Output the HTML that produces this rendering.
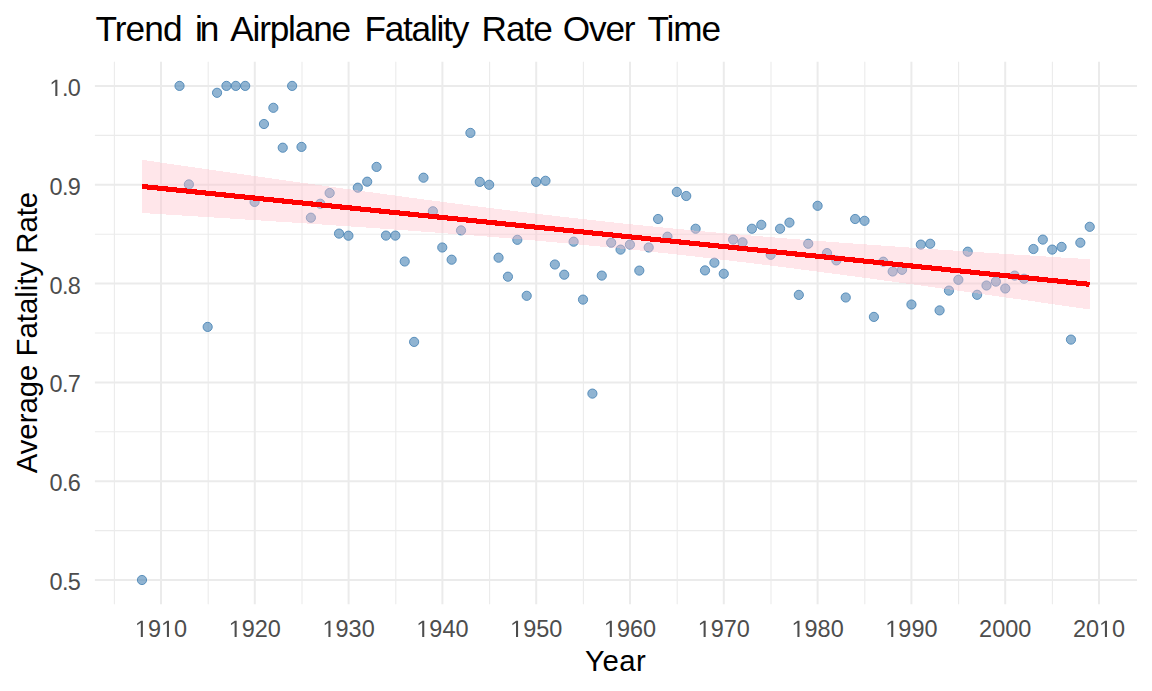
<!DOCTYPE html><html><head><meta charset="utf-8"><style>html,body{margin:0;padding:0;background:#fff;width:1152px;height:691px;overflow:hidden}svg{display:block}text{font-family:"Liberation Sans",sans-serif}</style></head><body>
<svg width="1152" height="691" viewBox="0 0 1152 691">
<rect width="1152" height="691" fill="#fff"/>
<line x1="94.9" x2="1137.0" y1="530.60" y2="530.60" stroke="#EBEBEB" stroke-width="1.1"/>
<line x1="94.9" x2="1137.0" y1="431.80" y2="431.80" stroke="#EBEBEB" stroke-width="1.1"/>
<line x1="94.9" x2="1137.0" y1="333.00" y2="333.00" stroke="#EBEBEB" stroke-width="1.1"/>
<line x1="94.9" x2="1137.0" y1="234.20" y2="234.20" stroke="#EBEBEB" stroke-width="1.1"/>
<line x1="94.9" x2="1137.0" y1="135.40" y2="135.40" stroke="#EBEBEB" stroke-width="1.1"/>
<line y1="61.7" y2="604.3" x1="114.40" x2="114.40" stroke="#EBEBEB" stroke-width="1.1"/>
<line y1="61.7" y2="604.3" x1="208.20" x2="208.20" stroke="#EBEBEB" stroke-width="1.1"/>
<line y1="61.7" y2="604.3" x1="302.00" x2="302.00" stroke="#EBEBEB" stroke-width="1.1"/>
<line y1="61.7" y2="604.3" x1="395.80" x2="395.80" stroke="#EBEBEB" stroke-width="1.1"/>
<line y1="61.7" y2="604.3" x1="489.60" x2="489.60" stroke="#EBEBEB" stroke-width="1.1"/>
<line y1="61.7" y2="604.3" x1="583.40" x2="583.40" stroke="#EBEBEB" stroke-width="1.1"/>
<line y1="61.7" y2="604.3" x1="677.20" x2="677.20" stroke="#EBEBEB" stroke-width="1.1"/>
<line y1="61.7" y2="604.3" x1="771.00" x2="771.00" stroke="#EBEBEB" stroke-width="1.1"/>
<line y1="61.7" y2="604.3" x1="864.80" x2="864.80" stroke="#EBEBEB" stroke-width="1.1"/>
<line y1="61.7" y2="604.3" x1="958.60" x2="958.60" stroke="#EBEBEB" stroke-width="1.1"/>
<line y1="61.7" y2="604.3" x1="1052.40" x2="1052.40" stroke="#EBEBEB" stroke-width="1.1"/>
<line x1="94.9" x2="1137.0" y1="580.00" y2="580.00" stroke="#EBEBEB" stroke-width="2"/>
<line x1="94.9" x2="1137.0" y1="481.20" y2="481.20" stroke="#EBEBEB" stroke-width="2"/>
<line x1="94.9" x2="1137.0" y1="382.40" y2="382.40" stroke="#EBEBEB" stroke-width="2"/>
<line x1="94.9" x2="1137.0" y1="283.60" y2="283.60" stroke="#EBEBEB" stroke-width="2"/>
<line x1="94.9" x2="1137.0" y1="184.80" y2="184.80" stroke="#EBEBEB" stroke-width="2"/>
<line x1="94.9" x2="1137.0" y1="86.00" y2="86.00" stroke="#EBEBEB" stroke-width="2"/>
<line y1="61.7" y2="604.3" x1="161.00" x2="161.00" stroke="#EBEBEB" stroke-width="2"/>
<line y1="61.7" y2="604.3" x1="254.80" x2="254.80" stroke="#EBEBEB" stroke-width="2"/>
<line y1="61.7" y2="604.3" x1="348.60" x2="348.60" stroke="#EBEBEB" stroke-width="2"/>
<line y1="61.7" y2="604.3" x1="442.40" x2="442.40" stroke="#EBEBEB" stroke-width="2"/>
<line y1="61.7" y2="604.3" x1="536.20" x2="536.20" stroke="#EBEBEB" stroke-width="2"/>
<line y1="61.7" y2="604.3" x1="630.00" x2="630.00" stroke="#EBEBEB" stroke-width="2"/>
<line y1="61.7" y2="604.3" x1="723.80" x2="723.80" stroke="#EBEBEB" stroke-width="2"/>
<line y1="61.7" y2="604.3" x1="817.60" x2="817.60" stroke="#EBEBEB" stroke-width="2"/>
<line y1="61.7" y2="604.3" x1="911.40" x2="911.40" stroke="#EBEBEB" stroke-width="2"/>
<line y1="61.7" y2="604.3" x1="1005.20" x2="1005.20" stroke="#EBEBEB" stroke-width="2"/>
<line y1="61.7" y2="604.3" x1="1099.00" x2="1099.00" stroke="#EBEBEB" stroke-width="2"/>
<circle cx="141.98" cy="580.00" r="4.6" fill="#4682B4" fill-opacity="0.6" stroke="#4682B4" stroke-opacity="0.85" stroke-width="1.0"/>
<circle cx="179.52" cy="85.90" r="4.6" fill="#4682B4" fill-opacity="0.6" stroke="#4682B4" stroke-opacity="0.85" stroke-width="1.0"/>
<circle cx="188.90" cy="184.40" r="4.6" fill="#4682B4" fill-opacity="0.6" stroke="#4682B4" stroke-opacity="0.85" stroke-width="1.0"/>
<circle cx="207.67" cy="326.90" r="4.6" fill="#4682B4" fill-opacity="0.6" stroke="#4682B4" stroke-opacity="0.85" stroke-width="1.0"/>
<circle cx="217.05" cy="92.80" r="4.6" fill="#4682B4" fill-opacity="0.6" stroke="#4682B4" stroke-opacity="0.85" stroke-width="1.0"/>
<circle cx="226.44" cy="85.90" r="4.6" fill="#4682B4" fill-opacity="0.6" stroke="#4682B4" stroke-opacity="0.85" stroke-width="1.0"/>
<circle cx="235.82" cy="85.90" r="4.6" fill="#4682B4" fill-opacity="0.6" stroke="#4682B4" stroke-opacity="0.85" stroke-width="1.0"/>
<circle cx="245.20" cy="85.90" r="4.6" fill="#4682B4" fill-opacity="0.6" stroke="#4682B4" stroke-opacity="0.85" stroke-width="1.0"/>
<circle cx="254.59" cy="201.90" r="4.6" fill="#4682B4" fill-opacity="0.6" stroke="#4682B4" stroke-opacity="0.85" stroke-width="1.0"/>
<circle cx="263.97" cy="124.00" r="4.6" fill="#4682B4" fill-opacity="0.6" stroke="#4682B4" stroke-opacity="0.85" stroke-width="1.0"/>
<circle cx="273.35" cy="107.80" r="4.6" fill="#4682B4" fill-opacity="0.6" stroke="#4682B4" stroke-opacity="0.85" stroke-width="1.0"/>
<circle cx="282.74" cy="147.70" r="4.6" fill="#4682B4" fill-opacity="0.6" stroke="#4682B4" stroke-opacity="0.85" stroke-width="1.0"/>
<circle cx="292.12" cy="85.90" r="4.6" fill="#4682B4" fill-opacity="0.6" stroke="#4682B4" stroke-opacity="0.85" stroke-width="1.0"/>
<circle cx="301.50" cy="146.90" r="4.6" fill="#4682B4" fill-opacity="0.6" stroke="#4682B4" stroke-opacity="0.85" stroke-width="1.0"/>
<circle cx="310.89" cy="217.70" r="4.6" fill="#4682B4" fill-opacity="0.6" stroke="#4682B4" stroke-opacity="0.85" stroke-width="1.0"/>
<circle cx="320.27" cy="203.75" r="4.6" fill="#4682B4" fill-opacity="0.6" stroke="#4682B4" stroke-opacity="0.85" stroke-width="1.0"/>
<circle cx="329.65" cy="193.00" r="4.6" fill="#4682B4" fill-opacity="0.6" stroke="#4682B4" stroke-opacity="0.85" stroke-width="1.0"/>
<circle cx="339.04" cy="233.60" r="4.6" fill="#4682B4" fill-opacity="0.6" stroke="#4682B4" stroke-opacity="0.85" stroke-width="1.0"/>
<circle cx="348.42" cy="235.70" r="4.6" fill="#4682B4" fill-opacity="0.6" stroke="#4682B4" stroke-opacity="0.85" stroke-width="1.0"/>
<circle cx="357.81" cy="187.70" r="4.6" fill="#4682B4" fill-opacity="0.6" stroke="#4682B4" stroke-opacity="0.85" stroke-width="1.0"/>
<circle cx="367.19" cy="181.70" r="4.6" fill="#4682B4" fill-opacity="0.6" stroke="#4682B4" stroke-opacity="0.85" stroke-width="1.0"/>
<circle cx="376.57" cy="166.90" r="4.6" fill="#4682B4" fill-opacity="0.6" stroke="#4682B4" stroke-opacity="0.85" stroke-width="1.0"/>
<circle cx="385.96" cy="235.60" r="4.6" fill="#4682B4" fill-opacity="0.6" stroke="#4682B4" stroke-opacity="0.85" stroke-width="1.0"/>
<circle cx="395.34" cy="235.60" r="4.6" fill="#4682B4" fill-opacity="0.6" stroke="#4682B4" stroke-opacity="0.85" stroke-width="1.0"/>
<circle cx="404.72" cy="261.50" r="4.6" fill="#4682B4" fill-opacity="0.6" stroke="#4682B4" stroke-opacity="0.85" stroke-width="1.0"/>
<circle cx="414.11" cy="341.90" r="4.6" fill="#4682B4" fill-opacity="0.6" stroke="#4682B4" stroke-opacity="0.85" stroke-width="1.0"/>
<circle cx="423.49" cy="177.70" r="4.6" fill="#4682B4" fill-opacity="0.6" stroke="#4682B4" stroke-opacity="0.85" stroke-width="1.0"/>
<circle cx="432.87" cy="211.25" r="4.6" fill="#4682B4" fill-opacity="0.6" stroke="#4682B4" stroke-opacity="0.85" stroke-width="1.0"/>
<circle cx="442.26" cy="247.50" r="4.6" fill="#4682B4" fill-opacity="0.6" stroke="#4682B4" stroke-opacity="0.85" stroke-width="1.0"/>
<circle cx="451.64" cy="259.70" r="4.6" fill="#4682B4" fill-opacity="0.6" stroke="#4682B4" stroke-opacity="0.85" stroke-width="1.0"/>
<circle cx="461.03" cy="230.40" r="4.6" fill="#4682B4" fill-opacity="0.6" stroke="#4682B4" stroke-opacity="0.85" stroke-width="1.0"/>
<circle cx="470.41" cy="132.90" r="4.6" fill="#4682B4" fill-opacity="0.6" stroke="#4682B4" stroke-opacity="0.85" stroke-width="1.0"/>
<circle cx="479.79" cy="181.90" r="4.6" fill="#4682B4" fill-opacity="0.6" stroke="#4682B4" stroke-opacity="0.85" stroke-width="1.0"/>
<circle cx="489.18" cy="184.80" r="4.6" fill="#4682B4" fill-opacity="0.6" stroke="#4682B4" stroke-opacity="0.85" stroke-width="1.0"/>
<circle cx="498.56" cy="257.70" r="4.6" fill="#4682B4" fill-opacity="0.6" stroke="#4682B4" stroke-opacity="0.85" stroke-width="1.0"/>
<circle cx="507.94" cy="276.70" r="4.6" fill="#4682B4" fill-opacity="0.6" stroke="#4682B4" stroke-opacity="0.85" stroke-width="1.0"/>
<circle cx="517.33" cy="239.80" r="4.6" fill="#4682B4" fill-opacity="0.6" stroke="#4682B4" stroke-opacity="0.85" stroke-width="1.0"/>
<circle cx="526.71" cy="295.80" r="4.6" fill="#4682B4" fill-opacity="0.6" stroke="#4682B4" stroke-opacity="0.85" stroke-width="1.0"/>
<circle cx="536.09" cy="181.90" r="4.6" fill="#4682B4" fill-opacity="0.6" stroke="#4682B4" stroke-opacity="0.85" stroke-width="1.0"/>
<circle cx="545.48" cy="180.80" r="4.6" fill="#4682B4" fill-opacity="0.6" stroke="#4682B4" stroke-opacity="0.85" stroke-width="1.0"/>
<circle cx="554.86" cy="264.50" r="4.6" fill="#4682B4" fill-opacity="0.6" stroke="#4682B4" stroke-opacity="0.85" stroke-width="1.0"/>
<circle cx="564.24" cy="274.70" r="4.6" fill="#4682B4" fill-opacity="0.6" stroke="#4682B4" stroke-opacity="0.85" stroke-width="1.0"/>
<circle cx="573.63" cy="241.70" r="4.6" fill="#4682B4" fill-opacity="0.6" stroke="#4682B4" stroke-opacity="0.85" stroke-width="1.0"/>
<circle cx="583.01" cy="299.60" r="4.6" fill="#4682B4" fill-opacity="0.6" stroke="#4682B4" stroke-opacity="0.85" stroke-width="1.0"/>
<circle cx="592.40" cy="393.60" r="4.6" fill="#4682B4" fill-opacity="0.6" stroke="#4682B4" stroke-opacity="0.85" stroke-width="1.0"/>
<circle cx="601.78" cy="275.60" r="4.6" fill="#4682B4" fill-opacity="0.6" stroke="#4682B4" stroke-opacity="0.85" stroke-width="1.0"/>
<circle cx="611.16" cy="242.70" r="4.6" fill="#4682B4" fill-opacity="0.6" stroke="#4682B4" stroke-opacity="0.85" stroke-width="1.0"/>
<circle cx="620.55" cy="249.60" r="4.6" fill="#4682B4" fill-opacity="0.6" stroke="#4682B4" stroke-opacity="0.85" stroke-width="1.0"/>
<circle cx="629.93" cy="244.60" r="4.6" fill="#4682B4" fill-opacity="0.6" stroke="#4682B4" stroke-opacity="0.85" stroke-width="1.0"/>
<circle cx="639.31" cy="270.60" r="4.6" fill="#4682B4" fill-opacity="0.6" stroke="#4682B4" stroke-opacity="0.85" stroke-width="1.0"/>
<circle cx="648.70" cy="247.50" r="4.6" fill="#4682B4" fill-opacity="0.6" stroke="#4682B4" stroke-opacity="0.85" stroke-width="1.0"/>
<circle cx="658.08" cy="219.00" r="4.6" fill="#4682B4" fill-opacity="0.6" stroke="#4682B4" stroke-opacity="0.85" stroke-width="1.0"/>
<circle cx="667.46" cy="236.70" r="4.6" fill="#4682B4" fill-opacity="0.6" stroke="#4682B4" stroke-opacity="0.85" stroke-width="1.0"/>
<circle cx="676.85" cy="191.90" r="4.6" fill="#4682B4" fill-opacity="0.6" stroke="#4682B4" stroke-opacity="0.85" stroke-width="1.0"/>
<circle cx="686.23" cy="196.00" r="4.6" fill="#4682B4" fill-opacity="0.6" stroke="#4682B4" stroke-opacity="0.85" stroke-width="1.0"/>
<circle cx="695.62" cy="228.75" r="4.6" fill="#4682B4" fill-opacity="0.6" stroke="#4682B4" stroke-opacity="0.85" stroke-width="1.0"/>
<circle cx="705.00" cy="270.40" r="4.6" fill="#4682B4" fill-opacity="0.6" stroke="#4682B4" stroke-opacity="0.85" stroke-width="1.0"/>
<circle cx="714.38" cy="262.70" r="4.6" fill="#4682B4" fill-opacity="0.6" stroke="#4682B4" stroke-opacity="0.85" stroke-width="1.0"/>
<circle cx="723.77" cy="273.75" r="4.6" fill="#4682B4" fill-opacity="0.6" stroke="#4682B4" stroke-opacity="0.85" stroke-width="1.0"/>
<circle cx="733.15" cy="239.60" r="4.6" fill="#4682B4" fill-opacity="0.6" stroke="#4682B4" stroke-opacity="0.85" stroke-width="1.0"/>
<circle cx="742.53" cy="242.30" r="4.6" fill="#4682B4" fill-opacity="0.6" stroke="#4682B4" stroke-opacity="0.85" stroke-width="1.0"/>
<circle cx="751.92" cy="228.75" r="4.6" fill="#4682B4" fill-opacity="0.6" stroke="#4682B4" stroke-opacity="0.85" stroke-width="1.0"/>
<circle cx="761.30" cy="224.80" r="4.6" fill="#4682B4" fill-opacity="0.6" stroke="#4682B4" stroke-opacity="0.85" stroke-width="1.0"/>
<circle cx="770.68" cy="254.80" r="4.6" fill="#4682B4" fill-opacity="0.6" stroke="#4682B4" stroke-opacity="0.85" stroke-width="1.0"/>
<circle cx="780.07" cy="228.75" r="4.6" fill="#4682B4" fill-opacity="0.6" stroke="#4682B4" stroke-opacity="0.85" stroke-width="1.0"/>
<circle cx="789.45" cy="222.60" r="4.6" fill="#4682B4" fill-opacity="0.6" stroke="#4682B4" stroke-opacity="0.85" stroke-width="1.0"/>
<circle cx="798.83" cy="294.90" r="4.6" fill="#4682B4" fill-opacity="0.6" stroke="#4682B4" stroke-opacity="0.85" stroke-width="1.0"/>
<circle cx="808.22" cy="243.75" r="4.6" fill="#4682B4" fill-opacity="0.6" stroke="#4682B4" stroke-opacity="0.85" stroke-width="1.0"/>
<circle cx="817.60" cy="205.80" r="4.6" fill="#4682B4" fill-opacity="0.6" stroke="#4682B4" stroke-opacity="0.85" stroke-width="1.0"/>
<circle cx="826.99" cy="253.10" r="4.6" fill="#4682B4" fill-opacity="0.6" stroke="#4682B4" stroke-opacity="0.85" stroke-width="1.0"/>
<circle cx="836.37" cy="260.40" r="4.6" fill="#4682B4" fill-opacity="0.6" stroke="#4682B4" stroke-opacity="0.85" stroke-width="1.0"/>
<circle cx="845.75" cy="297.50" r="4.6" fill="#4682B4" fill-opacity="0.6" stroke="#4682B4" stroke-opacity="0.85" stroke-width="1.0"/>
<circle cx="855.14" cy="219.00" r="4.6" fill="#4682B4" fill-opacity="0.6" stroke="#4682B4" stroke-opacity="0.85" stroke-width="1.0"/>
<circle cx="864.52" cy="220.80" r="4.6" fill="#4682B4" fill-opacity="0.6" stroke="#4682B4" stroke-opacity="0.85" stroke-width="1.0"/>
<circle cx="873.90" cy="316.90" r="4.6" fill="#4682B4" fill-opacity="0.6" stroke="#4682B4" stroke-opacity="0.85" stroke-width="1.0"/>
<circle cx="883.29" cy="261.70" r="4.6" fill="#4682B4" fill-opacity="0.6" stroke="#4682B4" stroke-opacity="0.85" stroke-width="1.0"/>
<circle cx="892.67" cy="271.50" r="4.6" fill="#4682B4" fill-opacity="0.6" stroke="#4682B4" stroke-opacity="0.85" stroke-width="1.0"/>
<circle cx="902.05" cy="269.80" r="4.6" fill="#4682B4" fill-opacity="0.6" stroke="#4682B4" stroke-opacity="0.85" stroke-width="1.0"/>
<circle cx="911.44" cy="304.50" r="4.6" fill="#4682B4" fill-opacity="0.6" stroke="#4682B4" stroke-opacity="0.85" stroke-width="1.0"/>
<circle cx="920.82" cy="244.60" r="4.6" fill="#4682B4" fill-opacity="0.6" stroke="#4682B4" stroke-opacity="0.85" stroke-width="1.0"/>
<circle cx="930.21" cy="243.75" r="4.6" fill="#4682B4" fill-opacity="0.6" stroke="#4682B4" stroke-opacity="0.85" stroke-width="1.0"/>
<circle cx="939.59" cy="310.40" r="4.6" fill="#4682B4" fill-opacity="0.6" stroke="#4682B4" stroke-opacity="0.85" stroke-width="1.0"/>
<circle cx="948.97" cy="290.60" r="4.6" fill="#4682B4" fill-opacity="0.6" stroke="#4682B4" stroke-opacity="0.85" stroke-width="1.0"/>
<circle cx="958.36" cy="279.80" r="4.6" fill="#4682B4" fill-opacity="0.6" stroke="#4682B4" stroke-opacity="0.85" stroke-width="1.0"/>
<circle cx="967.74" cy="251.70" r="4.6" fill="#4682B4" fill-opacity="0.6" stroke="#4682B4" stroke-opacity="0.85" stroke-width="1.0"/>
<circle cx="977.12" cy="294.80" r="4.6" fill="#4682B4" fill-opacity="0.6" stroke="#4682B4" stroke-opacity="0.85" stroke-width="1.0"/>
<circle cx="986.51" cy="285.50" r="4.6" fill="#4682B4" fill-opacity="0.6" stroke="#4682B4" stroke-opacity="0.85" stroke-width="1.0"/>
<circle cx="995.89" cy="281.60" r="4.6" fill="#4682B4" fill-opacity="0.6" stroke="#4682B4" stroke-opacity="0.85" stroke-width="1.0"/>
<circle cx="1005.27" cy="288.50" r="4.6" fill="#4682B4" fill-opacity="0.6" stroke="#4682B4" stroke-opacity="0.85" stroke-width="1.0"/>
<circle cx="1014.66" cy="275.60" r="4.6" fill="#4682B4" fill-opacity="0.6" stroke="#4682B4" stroke-opacity="0.85" stroke-width="1.0"/>
<circle cx="1024.04" cy="278.75" r="4.6" fill="#4682B4" fill-opacity="0.6" stroke="#4682B4" stroke-opacity="0.85" stroke-width="1.0"/>
<circle cx="1033.42" cy="249.00" r="4.6" fill="#4682B4" fill-opacity="0.6" stroke="#4682B4" stroke-opacity="0.85" stroke-width="1.0"/>
<circle cx="1042.81" cy="239.60" r="4.6" fill="#4682B4" fill-opacity="0.6" stroke="#4682B4" stroke-opacity="0.85" stroke-width="1.0"/>
<circle cx="1052.19" cy="249.60" r="4.6" fill="#4682B4" fill-opacity="0.6" stroke="#4682B4" stroke-opacity="0.85" stroke-width="1.0"/>
<circle cx="1061.58" cy="246.90" r="4.6" fill="#4682B4" fill-opacity="0.6" stroke="#4682B4" stroke-opacity="0.85" stroke-width="1.0"/>
<circle cx="1070.96" cy="339.60" r="4.6" fill="#4682B4" fill-opacity="0.6" stroke="#4682B4" stroke-opacity="0.85" stroke-width="1.0"/>
<circle cx="1080.34" cy="242.70" r="4.6" fill="#4682B4" fill-opacity="0.6" stroke="#4682B4" stroke-opacity="0.85" stroke-width="1.0"/>
<circle cx="1089.73" cy="226.80" r="4.6" fill="#4682B4" fill-opacity="0.6" stroke="#4682B4" stroke-opacity="0.85" stroke-width="1.0"/>
<path d="M142.24,159.87 L154.08,161.58 L165.92,163.30 L177.77,165.01 L189.61,166.72 L201.45,168.42 L213.29,170.12 L225.14,171.82 L236.98,173.51 L248.82,175.20 L260.66,176.89 L272.50,178.57 L284.35,180.24 L296.19,181.91 L308.03,183.57 L319.87,185.23 L331.72,186.88 L343.56,188.52 L355.40,190.16 L367.24,191.78 L379.09,193.40 L390.93,195.01 L402.77,196.61 L414.61,198.19 L426.45,199.77 L438.30,201.33 L450.14,202.88 L461.98,204.42 L473.82,205.94 L485.67,207.45 L497.51,208.94 L509.35,210.41 L521.19,211.86 L533.03,213.29 L544.88,214.71 L556.72,216.10 L568.56,217.47 L580.40,218.82 L592.25,220.14 L604.09,221.44 L615.93,222.71 L627.77,223.96 L639.61,225.19 L651.46,226.39 L663.30,227.56 L675.14,228.71 L686.98,229.84 L698.83,230.94 L710.67,232.02 L722.51,233.08 L734.35,234.11 L746.19,235.13 L758.04,236.12 L769.88,237.10 L781.72,238.06 L793.56,239.00 L805.41,239.93 L817.25,240.84 L829.09,241.74 L840.93,242.63 L852.78,243.50 L864.62,244.36 L876.46,245.21 L888.30,246.05 L900.14,246.88 L911.99,247.70 L923.83,248.51 L935.67,249.32 L947.51,250.12 L959.36,250.91 L971.20,251.70 L983.04,252.47 L994.88,253.25 L1006.72,254.02 L1018.57,254.78 L1030.41,255.54 L1042.25,256.29 L1054.09,257.04 L1065.94,257.79 L1077.78,258.53 L1089.62,259.27 L1089.62,309.43 L1077.78,307.72 L1065.94,306.01 L1054.09,304.31 L1042.25,302.62 L1030.41,300.92 L1018.57,299.23 L1006.72,297.55 L994.88,295.87 L983.04,294.20 L971.20,292.53 L959.36,290.87 L947.51,289.21 L935.67,287.56 L923.83,285.92 L911.99,284.29 L900.14,282.66 L888.30,281.04 L876.46,279.44 L864.62,277.84 L852.78,276.25 L840.93,274.68 L829.09,273.11 L817.25,271.57 L805.41,270.03 L793.56,268.51 L781.72,267.00 L769.88,265.52 L758.04,264.05 L746.19,262.59 L734.35,261.16 L722.51,259.75 L710.67,258.36 L698.83,256.99 L686.98,255.65 L675.14,254.33 L663.30,253.03 L651.46,251.76 L639.61,250.51 L627.77,249.29 L615.93,248.09 L604.09,246.91 L592.25,245.77 L580.40,244.64 L568.56,243.54 L556.72,242.46 L544.88,241.41 L533.03,240.37 L521.19,239.36 L509.35,238.36 L497.51,237.39 L485.67,236.43 L473.82,235.49 L461.98,234.56 L450.14,233.65 L438.30,232.75 L426.45,231.87 L414.61,231.00 L402.77,230.14 L390.93,229.29 L379.09,228.45 L367.24,227.62 L355.40,226.80 L343.56,225.99 L331.72,225.18 L319.87,224.38 L308.03,223.59 L296.19,222.81 L284.35,222.03 L272.50,221.26 L260.66,220.49 L248.82,219.72 L236.98,218.97 L225.14,218.21 L213.29,217.46 L201.45,216.71 L189.61,215.97 L177.77,215.23 L165.92,214.50 L154.08,213.76 L142.24,213.03 Z" fill="#FFC0CB" fill-opacity="0.4" shape-rendering="crispEdges"/>
<line x1="142.24" y1="186.45" x2="1089.62" y2="284.35" stroke="#FF0000" stroke-width="5.1" shape-rendering="crispEdges"/>
<text x="80.9" y="590.00" text-anchor="end" font-size="23.47" fill="#4D4D4D" textLength="31.5" lengthAdjust="spacing">0.5</text>
<text x="80.9" y="491.20" text-anchor="end" font-size="23.47" fill="#4D4D4D" textLength="31.5" lengthAdjust="spacing">0.6</text>
<text x="80.9" y="392.40" text-anchor="end" font-size="23.47" fill="#4D4D4D" textLength="31.5" lengthAdjust="spacing">0.7</text>
<text x="80.9" y="293.60" text-anchor="end" font-size="23.47" fill="#4D4D4D" textLength="31.5" lengthAdjust="spacing">0.8</text>
<text x="80.9" y="194.80" text-anchor="end" font-size="23.47" fill="#4D4D4D" textLength="31.5" lengthAdjust="spacing">0.9</text>
<text x="80.9" y="96.00" text-anchor="end" font-size="23.47" fill="#4D4D4D" textLength="31.5" lengthAdjust="spacing">&#x2007;.0</text>
<path d="M55.30,96.00 L55.30,81.82 L51.66,84.43 L51.66,82.48 L55.47,79.85 L57.38,79.85 L57.38,96.00 Z" fill="#4D4D4D"/>
<text x="161.00" y="636.9" text-anchor="middle" font-size="23.47" fill="#4D4D4D">&#x2007;9&#x2007;0</text>
<path d="M140.80,636.90 L140.80,622.72 L137.15,625.33 L137.15,623.38 L140.97,620.75 L142.87,620.75 L142.87,636.90 Z" fill="#4D4D4D"/>
<path d="M166.90,636.90 L166.90,622.72 L163.26,625.33 L163.26,623.38 L167.07,620.75 L168.98,620.75 L168.98,636.90 Z" fill="#4D4D4D"/>
<text x="254.80" y="636.9" text-anchor="middle" font-size="23.47" fill="#4D4D4D">&#x2007;920</text>
<path d="M234.60,636.90 L234.60,622.72 L230.95,625.33 L230.95,623.38 L234.77,620.75 L236.67,620.75 L236.67,636.90 Z" fill="#4D4D4D"/>
<text x="348.60" y="636.9" text-anchor="middle" font-size="23.47" fill="#4D4D4D">&#x2007;930</text>
<path d="M328.40,636.90 L328.40,622.72 L324.75,625.33 L324.75,623.38 L328.57,620.75 L330.47,620.75 L330.47,636.90 Z" fill="#4D4D4D"/>
<text x="442.40" y="636.9" text-anchor="middle" font-size="23.47" fill="#4D4D4D">&#x2007;940</text>
<path d="M422.20,636.90 L422.20,622.72 L418.55,625.33 L418.55,623.38 L422.37,620.75 L424.27,620.75 L424.27,636.90 Z" fill="#4D4D4D"/>
<text x="536.20" y="636.9" text-anchor="middle" font-size="23.47" fill="#4D4D4D">&#x2007;950</text>
<path d="M516.00,636.90 L516.00,622.72 L512.35,625.33 L512.35,623.38 L516.17,620.75 L518.07,620.75 L518.07,636.90 Z" fill="#4D4D4D"/>
<text x="630.00" y="636.9" text-anchor="middle" font-size="23.47" fill="#4D4D4D">&#x2007;960</text>
<path d="M609.80,636.90 L609.80,622.72 L606.15,625.33 L606.15,623.38 L609.97,620.75 L611.87,620.75 L611.87,636.90 Z" fill="#4D4D4D"/>
<text x="723.80" y="636.9" text-anchor="middle" font-size="23.47" fill="#4D4D4D">&#x2007;970</text>
<path d="M703.60,636.90 L703.60,622.72 L699.95,625.33 L699.95,623.38 L703.77,620.75 L705.67,620.75 L705.67,636.90 Z" fill="#4D4D4D"/>
<text x="817.60" y="636.9" text-anchor="middle" font-size="23.47" fill="#4D4D4D">&#x2007;980</text>
<path d="M797.40,636.90 L797.40,622.72 L793.75,625.33 L793.75,623.38 L797.57,620.75 L799.47,620.75 L799.47,636.90 Z" fill="#4D4D4D"/>
<text x="911.40" y="636.9" text-anchor="middle" font-size="23.47" fill="#4D4D4D">&#x2007;990</text>
<path d="M891.20,636.90 L891.20,622.72 L887.55,625.33 L887.55,623.38 L891.37,620.75 L893.27,620.75 L893.27,636.90 Z" fill="#4D4D4D"/>
<text x="1005.20" y="636.9" text-anchor="middle" font-size="23.47" fill="#4D4D4D">2000</text>
<text x="1099.00" y="636.9" text-anchor="middle" font-size="23.47" fill="#4D4D4D">20&#x2007;0</text>
<path d="M1104.90,636.90 L1104.90,622.72 L1101.26,625.33 L1101.26,623.38 L1105.07,620.75 L1106.98,620.75 L1106.98,636.90 Z" fill="#4D4D4D"/>
<text x="585" y="671" font-size="29.33" fill="#000" textLength="60.87" lengthAdjust="spacing">Year</text>
<text transform="translate(36.85,332.6) rotate(-90)" x="0" y="0" text-anchor="middle" font-size="29.33" fill="#000">Average Fatality Rate</text>
<text x="95.4" y="41.1" font-size="35.2" fill="#000" textLength="87.23" lengthAdjust="spacing">Trend</text>
<text x="195.1" y="41.1" font-size="35.2" fill="#000" textLength="24.19" lengthAdjust="spacing">in</text>
<text x="230.2" y="41.1" font-size="35.2" fill="#000" textLength="120.91" lengthAdjust="spacing">Airplane</text>
<text x="364.4" y="41.1" font-size="35.2" fill="#000" textLength="104.82" lengthAdjust="spacing">Fatality</text>
<text x="481.6" y="41.1" font-size="35.2" fill="#000" textLength="71.13" lengthAdjust="spacing">Rate</text>
<text x="562.7" y="41.1" font-size="35.2" fill="#000" textLength="72.87" lengthAdjust="spacing">Over</text>
<text x="647.4" y="41.1" font-size="35.2" fill="#000" textLength="73.69" lengthAdjust="spacing">Time</text>
</svg></body></html>
